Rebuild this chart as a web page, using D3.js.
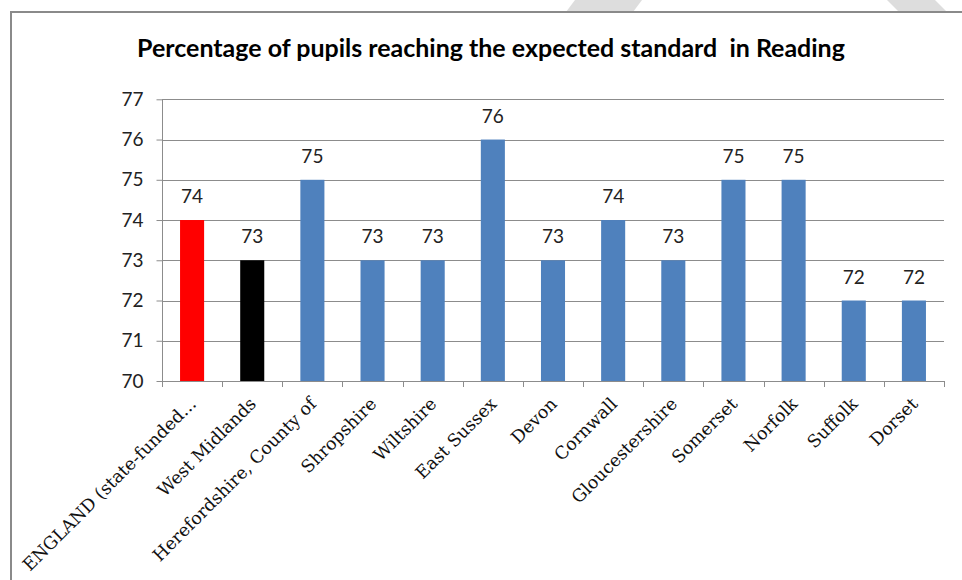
<!DOCTYPE html>
<html>
<head>
<meta charset="utf-8">
<script src="https://cdn.jsdelivr.net/npm/d3@7"></script>
<style>
  html, body { margin: 0; padding: 0; background: #fff; }
  svg { display: block; }
</style>
</head>
<body>
<svg id="chart" width="962" height="580"></svg>
<script>
// ---- data ----
const categories = ["ENGLAND (state-funded...", "West Midlands", "Herefordshire, County of",
  "Shropshire", "Wiltshire", "East Sussex", "Devon", "Cornwall", "Gloucestershire",
  "Somerset", "Norfolk", "Suffolk", "Dorset"];
const values = [74, 73, 75, 73, 73, 76, 73, 74, 73, 75, 75, 72, 72];
const yTicks = [70, 71, 72, 73, 74, 75, 76, 77];
const titleText = "Percentage of pupils reaching the expected standard  in Reading";

// ---- styles ----
const barColors = ["#FF0000", "#000000", "#4F81BD", "#4F81BD", "#4F81BD", "#4F81BD", "#4F81BD",
  "#4F81BD", "#4F81BD", "#4F81BD", "#4F81BD", "#4F81BD", "#4F81BD"];
const gridColor = "#8C8C8C";
const numFont = "Lato, 'Open Sans', sans-serif";
const catFont = "'DejaVu Serif', 'Liberation Serif', serif";

const svg = d3.select("#chart");

// watermark stripes at the very top
svg.append("polygon").attr("points", "575,0 642,0 633,12 566,12").attr("fill", "#DDDDDD");
svg.append("polygon").attr("points", "887,0 935,0 947,12 899,12").attr("fill", "#DDDDDD");

// outer frame (top-left part visible)
svg.append("path").attr("d", "M11,580 V12 H962").attr("fill", "none")
  .attr("stroke", "#8A8A8A").attr("stroke-width", 2);

const pLeft = 162, pRight = 944, pTop = 99.3, pBottom = 381;

const x = d3.scaleBand().domain(categories).range([pLeft, pRight])
  .paddingInner(0.6).paddingOuter(0.3);
const y = d3.scaleLinear().domain([70, 77]).range([pBottom, pTop]);

// gridlines
svg.append("g").selectAll("line").data(yTicks).join("line")
  .attr("x1", pLeft).attr("x2", pRight)
  .attr("y1", d => Math.round(y(d)) + 0.5).attr("y2", d => Math.round(y(d)) + 0.5)
  .attr("stroke", gridColor).attr("stroke-width", 1);

// y axis
const yAxis = svg.append("g").attr("transform", `translate(${pLeft + 0.5},0)`)
  .call(d3.axisLeft(y).tickValues(yTicks).tickSize(6).tickPadding(13).tickFormat(d3.format("d")));
yAxis.select(".domain").attr("stroke", gridColor).attr("d", `M0,${pTop}V${pBottom}`);
yAxis.selectAll(".tick line").attr("stroke", gridColor);
yAxis.selectAll(".tick text").attr("font-family", numFont).attr("font-size", 19)
  .attr("fill", "#222");

// bars
svg.append("g").selectAll("rect").data(values).join("rect")
  .attr("x", (d, i) => x(categories[i]))
  .attr("width", x.bandwidth())
  .attr("y", d => y(d))
  .attr("height", d => y(70) - y(d))
  .attr("fill", (d, i) => barColors[i]);

// x axis line and boundary ticks
const step = x.step();
const bounds = d3.range(categories.length + 1).map(i => pLeft + i * step);
svg.append("line").attr("x1", pLeft).attr("x2", pRight)
  .attr("y1", Math.round(pBottom) + 0.5).attr("y2", Math.round(pBottom) + 0.5)
  .attr("stroke", gridColor);
svg.append("g").selectAll("line").data(bounds).join("line")
  .attr("x1", d => Math.round(d) + 0.5).attr("x2", d => Math.round(d) + 0.5)
  .attr("y1", pBottom).attr("y2", pBottom + 6)
  .attr("stroke", gridColor);

// value labels
svg.append("g").selectAll("text").data(values).join("text")
  .attr("x", (d, i) => x(categories[i]) + x.bandwidth() / 2)
  .attr("y", d => y(d) - 17)
  .attr("text-anchor", "middle")
  .attr("font-family", numFont).attr("font-size", 19).attr("fill", "#222")
  .text(d => d);

// category labels (rotated)
svg.append("g").selectAll("text").data(categories).join("text")
  .attr("transform", d => `translate(${x(d) + x.bandwidth() / 2 + 5},${pBottom + 24}) rotate(-45)`)
  .attr("text-anchor", "end")
  .attr("font-family", catFont).attr("font-size", 17.5).attr("fill", "#111")
  .text(d => d);

// title
const title = svg.append("text").attr("x", 491).attr("y", 57)
  .attr("text-anchor", "middle")
  .style("white-space", "pre")
  .attr("font-family", "Lato, 'Open Sans', sans-serif").attr("font-weight", "bold")
  .attr("font-size", 22).attr("fill", "#000")
  .text(titleText);
const w = title.node().getComputedTextLength();
title.attr("font-size", 22 * 708 / w);
</script>
</body>
</html>
